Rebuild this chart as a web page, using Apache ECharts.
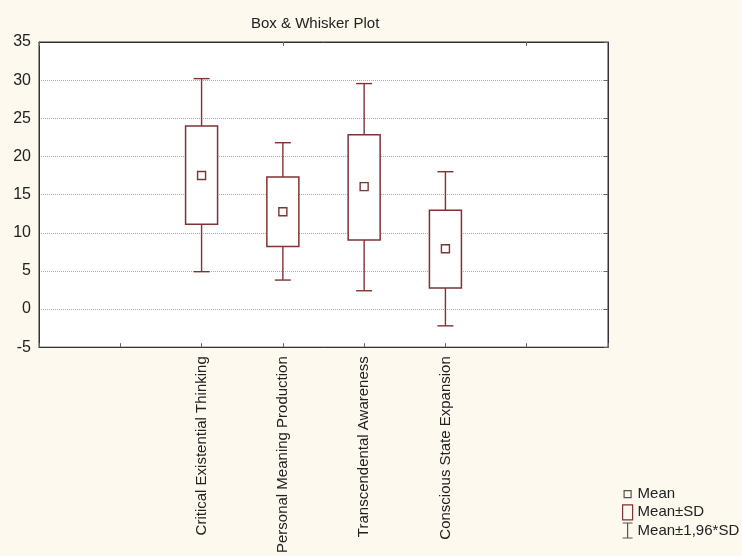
<!DOCTYPE html>
<html>
<head>
<meta charset="utf-8">
<script src="https://cdn.jsdelivr.net/npm/echarts@6/dist/echarts.min.js"></script>
<style>
html,body{margin:0;padding:0;background:#fdf9ef;}
#chart{width:742px;height:556px;}
</style>
</head>
<body>
<div id="chart"></div>
<script>
// ---- data ----
const categories = ['', '', 'Critical Existential Thinking', 'Personal Meaning Production', 'Transcendental Awareness', 'Conscious State Expansion', '', ''];
const variables = ['Critical Existential Thinking', 'Personal Meaning Production', 'Transcendental Awareness', 'Conscious State Expansion'];
const means  = [17.5, 12.75, 16.05, 7.9];
const sdLow  = [11.1, 8.2, 9.05, 2.75];
const sdHigh = [24.0, 17.3, 22.85, 12.95];
const ciLow  = [4.9, 3.8, 2.4, -2.2];
const ciHigh = [30.2, 21.8, 29.55, 18.0];
const yTicks = [-5, 0, 5, 10, 15, 20, 25, 30, 35];

const C = '#7f3333';
const FONT = 'Liberation Sans, Arial, sans-serif';

const whiskerData = variables.map((v, i) => [v, ciLow[i], ciHigh[i]]);
const boxData = variables.map((v, i) => [v, sdLow[i], sdHigh[i]]);
const meanData = variables.map((v, i) => [v, means[i]]);

const chart = echarts.init(document.getElementById('chart'), null, {renderer: 'canvas'});
chart.setOption({
  backgroundColor: '#fdf9ef',
  animation: false,
  textStyle: {fontFamily: FONT},
  title: {
    text: 'Box & Whisker Plot',
    left: 246, top: 11,
    textStyle: {fontSize: 15, fontWeight: 'normal', color: '#222', fontFamily: FONT}
  },
  grid: {
    left: 39, top: 42, right: 134, bottom: 208,
    show: true, backgroundColor: '#ffffff', borderColor: '#333', borderWidth: 1
  },
  legend: {
    orient: 'vertical', left: 622, top: 486, padding: 0,
    itemWidth: 10, itemHeight: 15, itemGap: 2,
    selectedMode: false,
    textStyle: {fontSize: 15, color: '#222', fontFamily: FONT},
    data: [
      {name: 'Mean', icon: 'path://M0,0M10,15M1.5,4L8.5,4L8.5,11L1.5,11Z',
       itemStyle: {color: 'transparent', borderColor: '#555', borderWidth: 1.2}},
      {name: 'Mean±SD', icon: 'path://M0,0L10,0L10,15L0,15Z',
       itemStyle: {color: 'transparent', borderColor: C, borderWidth: 1.2}},
      {name: 'Mean±1,96*SD', icon: 'path://M0,0L10,0M5,0L5,15M0,15L10,15',
       itemStyle: {color: 'transparent', borderColor: '#555', borderWidth: 1.2}}
    ]
  },
  xAxis: [{
    type: 'category', data: categories, boundaryGap: false,
    axisLine: {show: true, onZero: false, lineStyle: {color: '#333', width: 1}},
    axisTick: {show: true, inside: true, length: 4, lineStyle: {color: '#666'}},
    axisLabel: {rotate: 90, interval: 0, fontSize: 15, color: '#222', margin: 9, fontFamily: FONT},
    splitLine: {show: false}
  }, {
    type: 'category', data: categories, boundaryGap: false, position: 'top',
    axisLine: {show: true, onZero: false, lineStyle: {color: '#333', width: 1}},
    axisTick: {show: true, inside: true, length: 4, lineStyle: {color: '#666'}},
    axisLabel: {show: false},
    splitLine: {show: false}
  }],
  yAxis: [{
    type: 'value', min: yTicks[0], max: yTicks[yTicks.length - 1], interval: 5,
    axisLine: {show: true, onZero: false, lineStyle: {color: '#333', width: 1}},
    axisTick: {show: false},
    axisLabel: {fontSize: 16, color: '#222', margin: 8, fontFamily: FONT},
    splitLine: {show: true, lineStyle: {color: '#aaa', type: 'dotted', width: 1}}
  }, {
    type: 'value', min: yTicks[0], max: yTicks[yTicks.length - 1], interval: 5, position: 'right',
    axisLine: {show: true, onZero: false, lineStyle: {color: '#333', width: 1}},
    axisTick: {show: true, inside: true, length: 4, lineStyle: {color: '#666'}},
    axisLabel: {show: false},
    splitLine: {show: false}
  }],
  series: [{
    name: 'Mean±1,96*SD', type: 'custom', data: whiskerData,
    encode: {x: 0, y: [1, 2]},
    itemStyle: {color: C},
    renderItem: function (params, api) {
      const x = api.value(0);
      const lo = api.coord([x, api.value(1)]);
      const hi = api.coord([x, api.value(2)]);
      const hw = 8;
      const st = {stroke: C, lineWidth: 1.4, fill: null};
      return {type: 'group', children: [
        {type: 'line', shape: {x1: lo[0], y1: lo[1], x2: hi[0], y2: hi[1]}, style: st},
        {type: 'line', shape: {x1: lo[0] - hw, y1: lo[1], x2: lo[0] + hw, y2: lo[1]}, style: st},
        {type: 'line', shape: {x1: hi[0] - hw, y1: hi[1], x2: hi[0] + hw, y2: hi[1]}, style: st}
      ]};
    }
  }, {
    name: 'Mean±SD', type: 'custom', data: boxData,
    encode: {x: 0, y: [1, 2]},
    itemStyle: {color: C},
    renderItem: function (params, api) {
      const x = api.value(0);
      const lo = api.coord([x, api.value(1)]);
      const hi = api.coord([x, api.value(2)]);
      const hw = 16;
      return {type: 'rect',
        shape: {x: lo[0] - hw, y: hi[1], width: hw * 2, height: lo[1] - hi[1]},
        style: {stroke: C, lineWidth: 1.5, fill: '#ffffff'}};
    }
  }, {
    name: 'Mean', type: 'custom', data: meanData,
    encode: {x: 0, y: 1},
    itemStyle: {color: C},
    renderItem: function (params, api) {
      const p = api.coord([api.value(0), api.value(1)]);
      const h = 4;
      return {type: 'rect',
        shape: {x: p[0] - h, y: p[1] - h, width: h * 2, height: h * 2},
        style: {stroke: C, lineWidth: 1.4, fill: '#ffffff'}};
    }
  }]
});
</script>
</body>
</html>
